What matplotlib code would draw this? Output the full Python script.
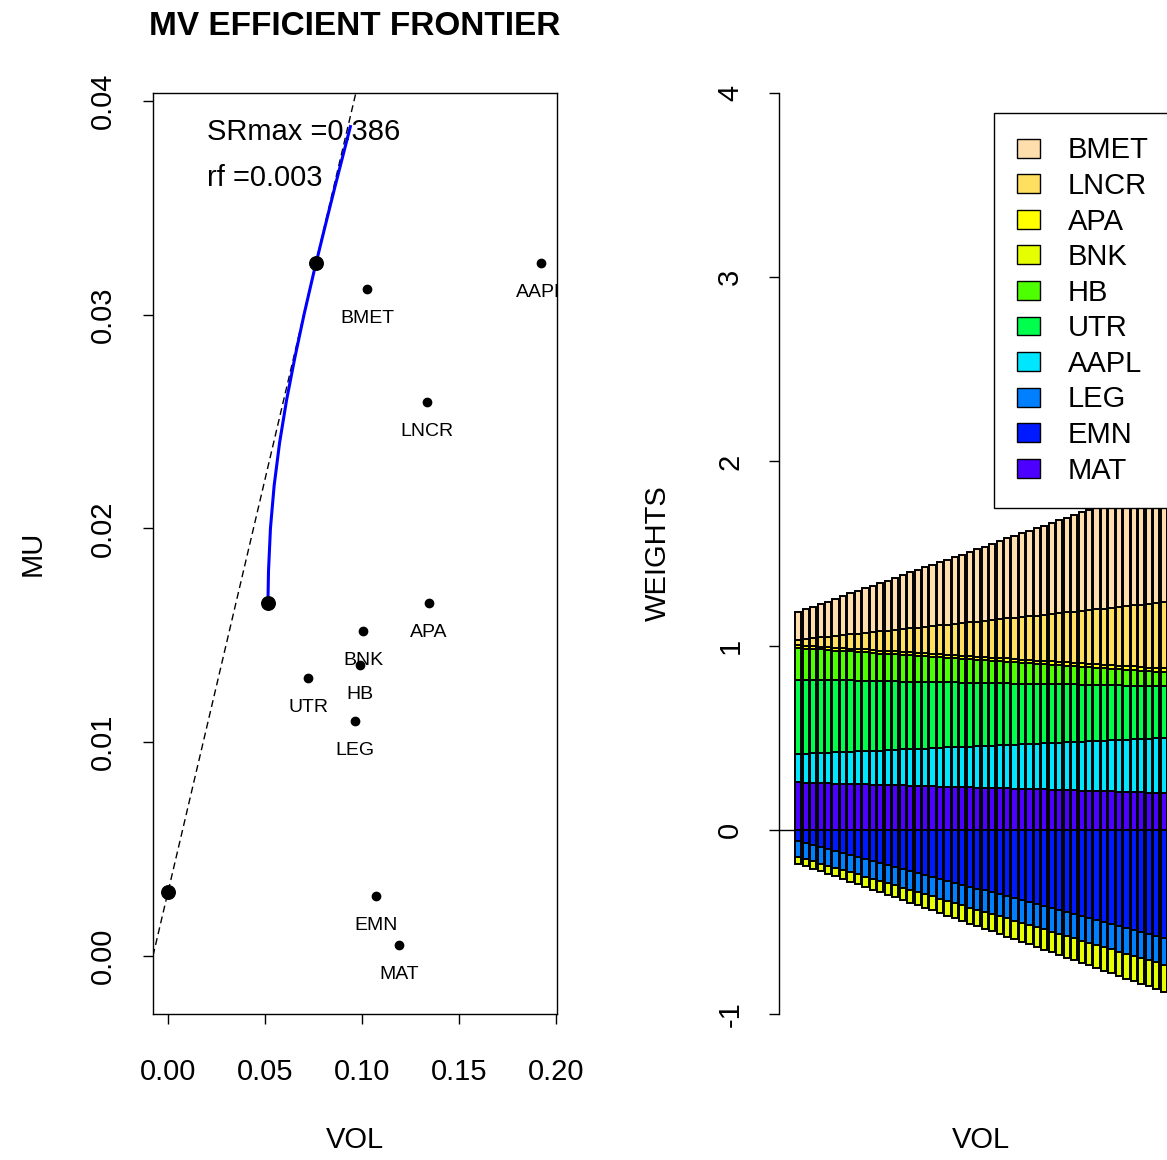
import numpy as np
import matplotlib
matplotlib.use('Agg')
import matplotlib.pyplot as plt
from matplotlib.patches import Patch

plt.rcParams['font.family'] = ['Liberation Sans', 'DejaVu Sans']

################################################################################
# Left panel: assets, frontier, tangency
################################################################################
assets = ['BMET', 'LNCR', 'APA', 'BNK', 'HB', 'UTR', 'AAPL', 'LEG', 'EMN', 'MAT']
asset_vol = [0.1026, 0.1335, 0.1345, 0.1005, 0.0990, 0.0722, 0.1923, 0.0964, 0.1072, 0.1191]
asset_mu = [0.0312, 0.0259, 0.0165, 0.0152, 0.0136, 0.0130, 0.0324, 0.0110, 0.0028, 0.0005]

frontier_mu = [0.0165, 0.0170, 0.0180, 0.0200, 0.0220, 0.0240, 0.0260, 0.0280,
               0.0300, 0.0320, 0.0340, 0.0360, 0.0388]
frontier_vol = [0.0515, 0.0516, 0.0518, 0.0528, 0.0547, 0.0575, 0.0611, 0.0654,
                0.0701, 0.0752, 0.0806, 0.0861, 0.0940]

rf = 0.003
sr_max = 0.386
minvar_vol, minvar_mu = 0.0515, 0.0165
tan_vol, tan_mu = 0.0763, 0.0324

################################################################################
# Right panel: frontier weights (50 portfolios), stacking order bottom -> top
################################################################################
w_MAT = [0.257, 0.256, 0.255, 0.254, 0.252, 0.251, 0.250, 0.249, 0.248, 0.247,
         0.245, 0.244, 0.243, 0.242, 0.241, 0.240, 0.238, 0.237, 0.236, 0.235,
         0.234, 0.233, 0.231, 0.230, 0.229, 0.228, 0.227, 0.226, 0.225, 0.223,
         0.222, 0.221, 0.220, 0.219, 0.218, 0.216, 0.215, 0.214, 0.213, 0.212,
         0.211, 0.209, 0.208, 0.207, 0.206, 0.205, 0.204, 0.202, 0.201, 0.200]
w_EMN = [-0.063, -0.074, -0.084, -0.095, -0.106, -0.116, -0.127, -0.138, -0.148, -0.159,
         -0.170, -0.180, -0.191, -0.201, -0.212, -0.223, -0.233, -0.244, -0.255, -0.265,
         -0.276, -0.287, -0.297, -0.308, -0.319, -0.329, -0.340, -0.351, -0.361, -0.372,
         -0.383, -0.393, -0.404, -0.414, -0.425, -0.436, -0.446, -0.457, -0.468, -0.478,
         -0.489, -0.500, -0.510, -0.521, -0.532, -0.542, -0.553, -0.564, -0.574, -0.585]
w_LEG = [-0.084, -0.085, -0.087, -0.088, -0.089, -0.090, -0.092, -0.093, -0.094, -0.096,
         -0.097, -0.098, -0.100, -0.101, -0.102, -0.104, -0.105, -0.106, -0.107, -0.109,
         -0.110, -0.111, -0.113, -0.114, -0.115, -0.117, -0.118, -0.119, -0.120, -0.122,
         -0.123, -0.124, -0.126, -0.127, -0.128, -0.130, -0.131, -0.132, -0.133, -0.135,
         -0.136, -0.137, -0.139, -0.140, -0.141, -0.143, -0.144, -0.145, -0.146, -0.148]
w_AAPL = [0.154, 0.157, 0.160, 0.163, 0.166, 0.169, 0.172, 0.175, 0.178, 0.180,
          0.183, 0.186, 0.189, 0.192, 0.195, 0.198, 0.201, 0.204, 0.207, 0.210,
          0.213, 0.216, 0.219, 0.222, 0.225, 0.228, 0.230, 0.233, 0.236, 0.239,
          0.242, 0.245, 0.248, 0.251, 0.254, 0.257, 0.260, 0.263, 0.266, 0.269,
          0.272, 0.275, 0.277, 0.280, 0.283, 0.286, 0.289, 0.292, 0.295, 0.298]
w_UTR = [0.404, 0.402, 0.399, 0.397, 0.394, 0.392, 0.389, 0.387, 0.384, 0.382,
         0.379, 0.377, 0.374, 0.372, 0.369, 0.367, 0.364, 0.362, 0.359, 0.357,
         0.354, 0.352, 0.349, 0.347, 0.344, 0.342, 0.339, 0.337, 0.334, 0.332,
         0.329, 0.327, 0.324, 0.322, 0.319, 0.317, 0.314, 0.312, 0.309, 0.307,
         0.304, 0.302, 0.299, 0.297, 0.294, 0.292, 0.289, 0.287, 0.284, 0.282]
w_HB = [0.171, 0.169, 0.167, 0.165, 0.163, 0.161, 0.159, 0.157, 0.155, 0.154,
        0.152, 0.150, 0.148, 0.146, 0.144, 0.142, 0.140, 0.138, 0.136, 0.134,
        0.132, 0.130, 0.128, 0.126, 0.124, 0.122, 0.121, 0.119, 0.117, 0.115,
        0.113, 0.111, 0.109, 0.107, 0.105, 0.103, 0.101, 0.099, 0.097, 0.095,
        0.093, 0.091, 0.090, 0.088, 0.086, 0.084, 0.082, 0.080, 0.078, 0.076]
w_BNK = [-0.036, -0.038, -0.040, -0.043, -0.045, -0.047, -0.049, -0.052, -0.054, -0.056,
         -0.058, -0.061, -0.063, -0.065, -0.067, -0.070, -0.072, -0.074, -0.076, -0.079,
         -0.081, -0.083, -0.085, -0.088, -0.090, -0.092, -0.094, -0.096, -0.099, -0.101,
         -0.103, -0.105, -0.108, -0.110, -0.112, -0.114, -0.117, -0.119, -0.121, -0.123,
         -0.126, -0.128, -0.130, -0.132, -0.135, -0.137, -0.139, -0.141, -0.144, -0.146]
w_APA = [0.015, 0.015, 0.015, 0.015, 0.015, 0.016, 0.016, 0.016, 0.016, 0.016,
         0.016, 0.016, 0.016, 0.016, 0.016, 0.017, 0.017, 0.017, 0.017, 0.017,
         0.017, 0.017, 0.017, 0.017, 0.017, 0.018, 0.018, 0.018, 0.018, 0.018,
         0.018, 0.018, 0.018, 0.018, 0.018, 0.019, 0.019, 0.019, 0.019, 0.019,
         0.019, 0.019, 0.019, 0.019, 0.019, 0.020, 0.020, 0.020, 0.020, 0.020]
w_LNCR = [0.030, 0.037, 0.043, 0.050, 0.057, 0.063, 0.070, 0.077, 0.084, 0.090,
          0.097, 0.104, 0.110, 0.117, 0.124, 0.130, 0.137, 0.144, 0.151, 0.157,
          0.164, 0.171, 0.177, 0.184, 0.191, 0.197, 0.204, 0.211, 0.218, 0.224,
          0.231, 0.238, 0.244, 0.251, 0.258, 0.264, 0.271, 0.278, 0.285, 0.291,
          0.298, 0.305, 0.311, 0.318, 0.325, 0.331, 0.338, 0.345, 0.352, 0.358]
w_BMET = [0.152, 0.162, 0.172, 0.182, 0.192, 0.202, 0.212, 0.222, 0.232, 0.243,
          0.253, 0.263, 0.273, 0.283, 0.293, 0.303, 0.313, 0.323, 0.333, 0.343,
          0.353, 0.363, 0.373, 0.383, 0.393, 0.403, 0.414, 0.424, 0.434, 0.444,
          0.454, 0.464, 0.474, 0.484, 0.494, 0.504, 0.514, 0.524, 0.534, 0.544,
          0.554, 0.564, 0.575, 0.585, 0.595, 0.605, 0.615, 0.625, 0.635, 0.645]

stack_names = ['MAT', 'EMN', 'LEG', 'AAPL', 'UTR', 'HB', 'BNK', 'APA', 'LNCR', 'BMET']
stack_weights = [w_MAT, w_EMN, w_LEG, w_AAPL, w_UTR, w_HB, w_BNK, w_APA, w_LNCR, w_BMET]
colors = {'BMET': '#FFDEAD', 'LNCR': '#FFDF60', 'APA': '#FFFF00', 'BNK': '#E6FF00',
          'HB': '#4DFF00', 'UTR': '#00FF4D', 'AAPL': '#00E6FF', 'LEG': '#0080FF',
          'EMN': '#001AFF', 'MAT': '#4C00FF'}

################################################################################
# Figure
################################################################################
W, H = 1167, 1160
fig = plt.figure(figsize=(W / 100, H / 100), dpi=100)
ax1 = fig.add_axes([153 / W, (H - 1014) / H, 404 / W, 921 / H])
ax2 = fig.add_axes([779 / W, (H - 1014) / H, 404 / W, 921 / H])

fs = 21

# --- left panel
ax1.axline((0, rf), slope=sr_max, color='black', lw=1, dashes=(5, 3), zorder=2)
ax1.plot(frontier_vol, frontier_mu, color='#0000FF', lw=2.2, zorder=3)
ax1.scatter(asset_vol, asset_mu, s=36, color='black', zorder=4)
ax1.scatter([0, minvar_vol, tan_vol], [rf, minvar_mu, tan_mu], s=95,
            color='black', zorder=4)
for name, x, y in zip(assets, asset_vol, asset_mu):
    ax1.annotate(name, (x, y), xytext=(0, -21), textcoords='offset points',
                 ha='center', va='center', fontsize=14, clip_on=True, zorder=1)

ax1.text(0.134, 0.958, 'SRmax =' + str(sr_max), transform=ax1.transAxes,
         fontsize=fs, ha='left', va='center', zorder=1)
ax1.text(0.134, 0.908, 'rf =' + str(rf), transform=ax1.transAxes,
         fontsize=fs, ha='left', va='center', zorder=1)

ax1.set_xlim(-0.00773, 0.2005)
ax1.set_ylim(-0.00271, 0.04037)
ax1.set_xticks([0, 0.05, 0.10, 0.15, 0.20])
ax1.set_xticklabels(['0.00', '0.05', '0.10', '0.15', '0.20'])
ax1.set_yticks([0, 0.01, 0.02, 0.03, 0.04])
ax1.set_yticklabels(['0.00', '0.01', '0.02', '0.03', '0.04'], va='center')
ax1.tick_params(axis='both', labelsize=fs, length=7, width=1, direction='out')
ax1.tick_params(axis='x', pad=25)
ax1.tick_params(axis='y', pad=19, labelrotation=90)
for s in ax1.spines.values():
    s.set_linewidth(1)
ax1.set_xlabel('VOL', fontsize=fs)
ax1.set_ylabel('MU', fontsize=fs)
ax1.xaxis.set_label_coords(0.5, -0.1216)
ax1.yaxis.set_label_coords(-0.263, 0.5)
ax1.set_title('MV EFFICIENT FRONTIER', fontsize=24, fontweight='bold', pad=42)

# --- right panel: stacked weights, positives up from 0, negatives down from 0
n = len(w_MAT)
xpos = 0.7 + 1.2 * np.arange(n)
pos_base = np.zeros(n)
neg_base = np.zeros(n)
ax2.axhline(0, color='black', lw=1, zorder=0)
for name, w in zip(stack_names, stack_weights):
    w = np.array(w)
    bottom = np.where(w >= 0, pos_base, neg_base)
    ax2.bar(xpos, w, width=1.0, bottom=bottom, color=colors[name],
            edgecolor='black', linewidth=1.4, zorder=2)
    pos_base = pos_base + np.where(w >= 0, w, 0)
    neg_base = neg_base + np.where(w < 0, w, 0)

ax2.set_xlim(-2.408, 62.608)
ax2.set_ylim(-1, 4)
ax2.set_xticks([])
ax2.set_yticks([-1, 0, 1, 2, 3, 4])
ax2.set_yticklabels(['-1', '0', '1', '2', '3', '4'], va='center')
ax2.tick_params(axis='y', labelsize=fs, length=7, width=1, pad=18, labelrotation=90)
for side in ['top', 'right', 'bottom']:
    ax2.spines[side].set_visible(False)
ax2.spines['left'].set_linewidth(1)
ax2.set_xlabel('VOL', fontsize=fs)
ax2.set_ylabel('WEIGHTS', fontsize=fs)
ax2.xaxis.set_label_coords(0.5, -0.1216)
ax2.yaxis.set_label_coords(-0.2656, 0.5)

handles = [Patch(facecolor=colors[a], edgecolor='black', linewidth=1) for a in assets]
fig.legend(handles, assets, loc='upper left', bbox_to_anchor=(994 / W, 1 - 113 / H),
           bbox_transform=fig.transFigure, borderaxespad=0, fontsize=fs,
           frameon=True, fancybox=False, edgecolor='black', framealpha=1,
           handlelength=0.79, handleheight=0.62, handletextpad=0.95,
           labelspacing=0.26, borderpad=0.8)

fig.savefig('out.png', dpi=100)
